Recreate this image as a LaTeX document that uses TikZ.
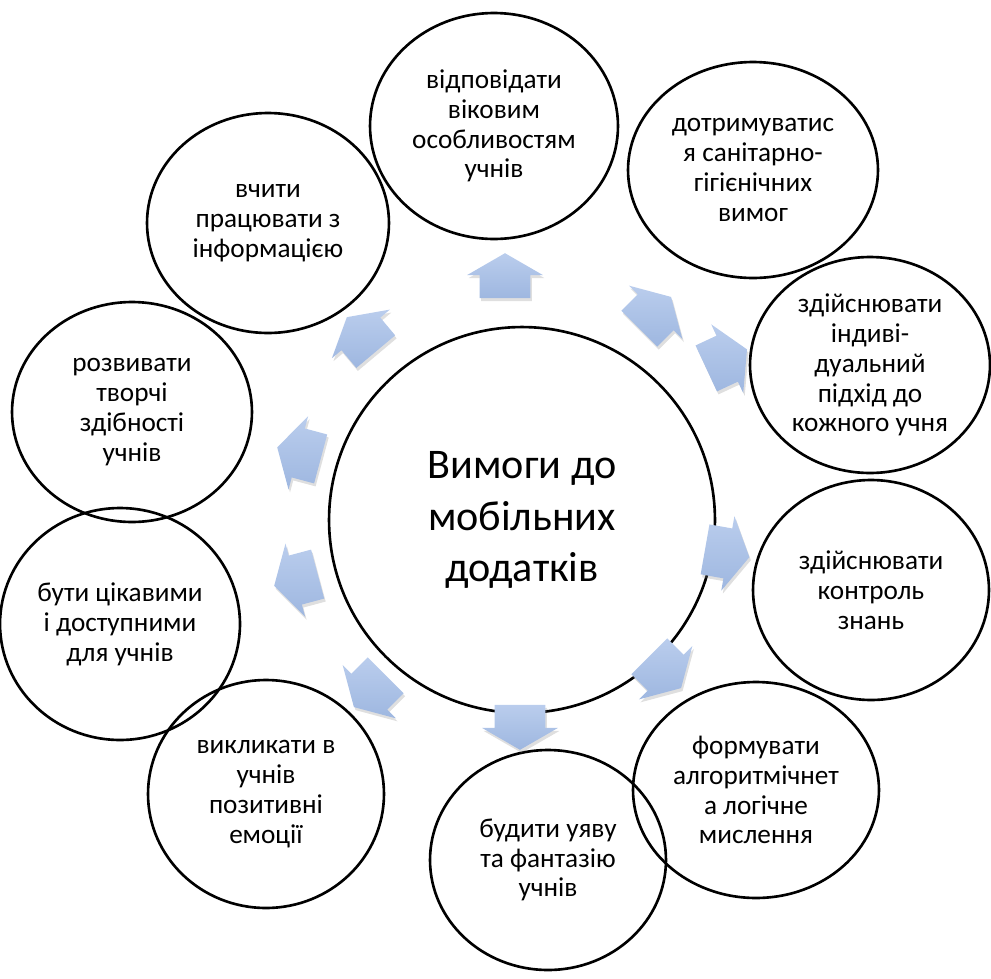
\documentclass[tikz,border=0pt]{standalone}
\usepackage{fontspec}
\setmainfont{Carlito}
\usetikzlibrary{shapes.geometric,shapes.arrows,shadows}
\definecolor{arrowblue}{RGB}{186,205,237}
\definecolor{arrowdark}{RGB}{158,183,224}
\tikzset
{
    mainnode/.style = {circle, draw=black, line width=1.5pt, align=center, minimum size=7.72cm, inner sep=0pt, font=\fontsize{24}{29.5}\selectfont},
    goalnode/.style = {ellipse, draw=black, line width=1.5pt, align=center, minimum width=4.8cm, minimum height=4.4cm, inner sep=0pt, font=\fontsize{15.5}{17}\selectfont},
    flowarrow/.style = {single arrow, draw=none, top color=arrowblue, bottom color=arrowdark, minimum height=0.9cm, inner xsep=0pt, inner ysep=0.5cm, single arrow head extend=0.25cm, single arrow tip angle=120, drop shadow={opacity=0.25, shadow xshift=0.03cm, shadow yshift=-0.06cm}}
}

\begin{document}
\begin{tikzpicture}[x=0.02cm, y=-0.02cm]
\useasboundingbox (0,0) rectangle (991,978);
% centre
\node[mainnode] (main) at (522,520) {Вимоги до\\мобільних\\додатків};
% requirements
\node[goalnode, minimum width=4.96cm, minimum height=4.52cm] (age) at (494,126) {відповідати\\віковим\\особливостям\\учнів};
\node[goalnode, minimum width=5cm, minimum height=4.32cm] (hyg) at (753,170) {дотримуватис\\я санітарно-\\гігієнічних\\вимог};
\node[goalnode, minimum height=4.32cm] (indiv) at (870,365) {здійснювати\\індиві-\\дуальний\\підхід до\\кожного учня};
\node[goalnode, minimum width=4.72cm] (ctrl) at (871,590) {здійснювати\\контроль\\знань};
\node[goalnode, minimum width=4.92cm, minimum height=4.32cm] (logic) at (756,790) {формувати\\алгоритмічнет\\а логічне\\мислення};
\node[goalnode, minimum width=4.72cm] (fant) at (548,860) {будити уяву\\та фантазію\\учнів};
\node[goalnode, minimum width=4.72cm, minimum height=4.56cm] (emot) at (266,794) {викликати в\\учнів\\позитивні\\емоції};
\node[goalnode, minimum height=4.64cm] (acc) at (120,624) {бути цікавими\\і доступними\\для учнів};
\node[goalnode] (creat) at (132,412) {розвивати\\творчі\\здібності\\учнів};
\node[goalnode, minimum width=4.84cm] (info) at (268,223) {вчити\\працювати з\\інформацією};
% arrows
\node[flowarrow, rotate=90] (a1) at (505,283) {};
\node[flowarrow, rotate=45] (a2) at (650,318) {};
\node[flowarrow, rotate=25] (a3) at (720,362) {};
\node[flowarrow, rotate=-10] (a4) at (720,552) {};
\node[flowarrow, rotate=-45] (a5) at (660,667) {};
\node[flowarrow, rotate=-90] (a6) at (520,720) {};
\node[flowarrow, rotate=-135] (a7) at (375,686) {};
\node[flowarrow, rotate=195] (a8) at (303,578) {};
\node[flowarrow, rotate=165] (a9) at (306,455) {};
\node[flowarrow, rotate=130] (a10) at (366,340) {};
\end{tikzpicture}
\end{document}
